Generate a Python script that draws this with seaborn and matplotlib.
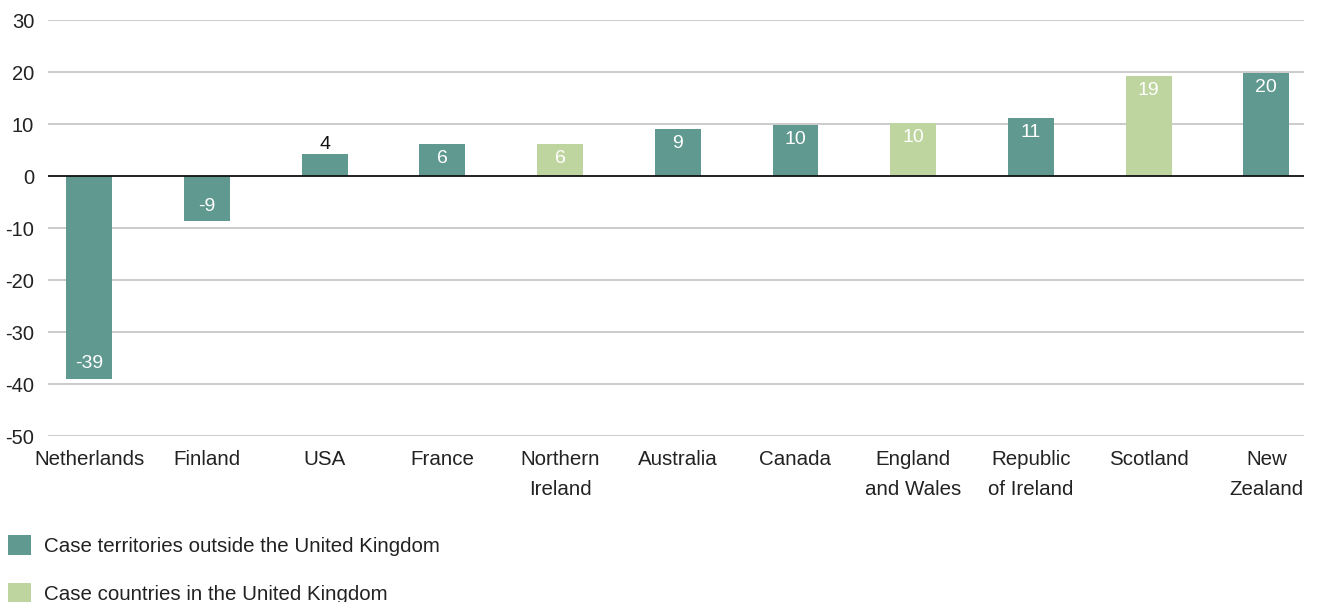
import matplotlib
matplotlib.use("Agg")
import matplotlib.pyplot as plt
from matplotlib.patches import Patch
import seaborn as sns
import pandas as pd

categories = ["Netherlands", "Finland", "USA", "France", "Northern\nIreland",
              "Australia", "Canada", "England\nand Wales", "Republic\nof Ireland",
              "Scotland", "New\nZealand"]
values = [-39.0, -8.7, 4.2, 6.2, 6.2, 9.0, 9.8, 10.2, 11.2, 19.2, 19.8]
labels = ["-39", "-9", "4", "6", "6", "9", "10", "10", "11", "19", "20"]
groups = ["outside", "outside", "outside", "outside", "uk", "outside",
          "outside", "uk", "outside", "uk", "outside"]
legend_labels = {"outside": "Case territories outside the United Kingdom",
                 "uk": "Case countries in the United Kingdom"}
yticks = [30, 20, 10, 0, -10, -20, -30, -40, -50]

colors = {"outside": "#5f998f", "uk": "#bfd5a0"}

sns.set_theme(style="white")
plt.rcParams["font.family"] = ["Liberation Sans", "DejaVu Sans"]

df = pd.DataFrame({"cat": categories, "val": values, "grp": groups})

fig = plt.figure(figsize=(13.17, 6.02), dpi=100)
ax = fig.add_axes([48/1317, 1-436/602, (1304-48)/1317, (436-20)/602])

sns.barplot(data=df, x="cat", y="val", hue="grp", order=categories,
            palette=colors, dodge=False, width=0.39, legend=False,
            saturation=1, linewidth=0, ax=ax, zorder=3)

ax.set_ylim(-50, 30)
ax.set_xlim(-0.35, 10.32)
ax.set_yticks(yticks)
ax.set_yticklabels([str(t) for t in yticks])
for t in yticks:
    if t != 0:
        ax.axhline(t, color="#bdbdbd", lw=1.1, zorder=1)
ax.axhline(0, color="#111111", lw=1.3, zorder=4)
for s in ax.spines.values():
    s.set_visible(False)
ax.set_xlabel("")
ax.set_ylabel("")
ax.tick_params(axis="y", length=0, pad=10, labelsize=14.5, labelcolor="#222222")
ax.tick_params(axis="x", length=0, pad=10, labelsize=14.8, labelcolor="#222222")
for lab in ax.get_xticklabels():
    lab.set_linespacing(1.75)

for i, (v, l) in enumerate(zip(values, labels)):
    if abs(v) < 5:
        ax.text(i, v + 0.3, l, ha="center", va="bottom", fontsize=14,
                color="#111111", zorder=5)
    elif v > 0:
        ax.text(i, v - 2.8, l, ha="center", va="center", fontsize=14,
                color="white", zorder=5)
    else:
        ax.text(i, v + 2.9, l, ha="center", va="center", fontsize=14,
                color="white", zorder=5)

handles = [Patch(facecolor=colors[k], edgecolor="none", label=legend_labels[k])
           for k in ["outside", "uk"]]
fig.legend(handles=handles, loc="upper left", bbox_to_anchor=(0.003, 1-531/602),
           frameon=False, fontsize=14.8, handlelength=1.1, handleheight=1.1,
           handletextpad=0.65, labelspacing=1.3, borderaxespad=0, borderpad=0.2,
           labelcolor="#222222")

fig.savefig("out.png", dpi=100)
